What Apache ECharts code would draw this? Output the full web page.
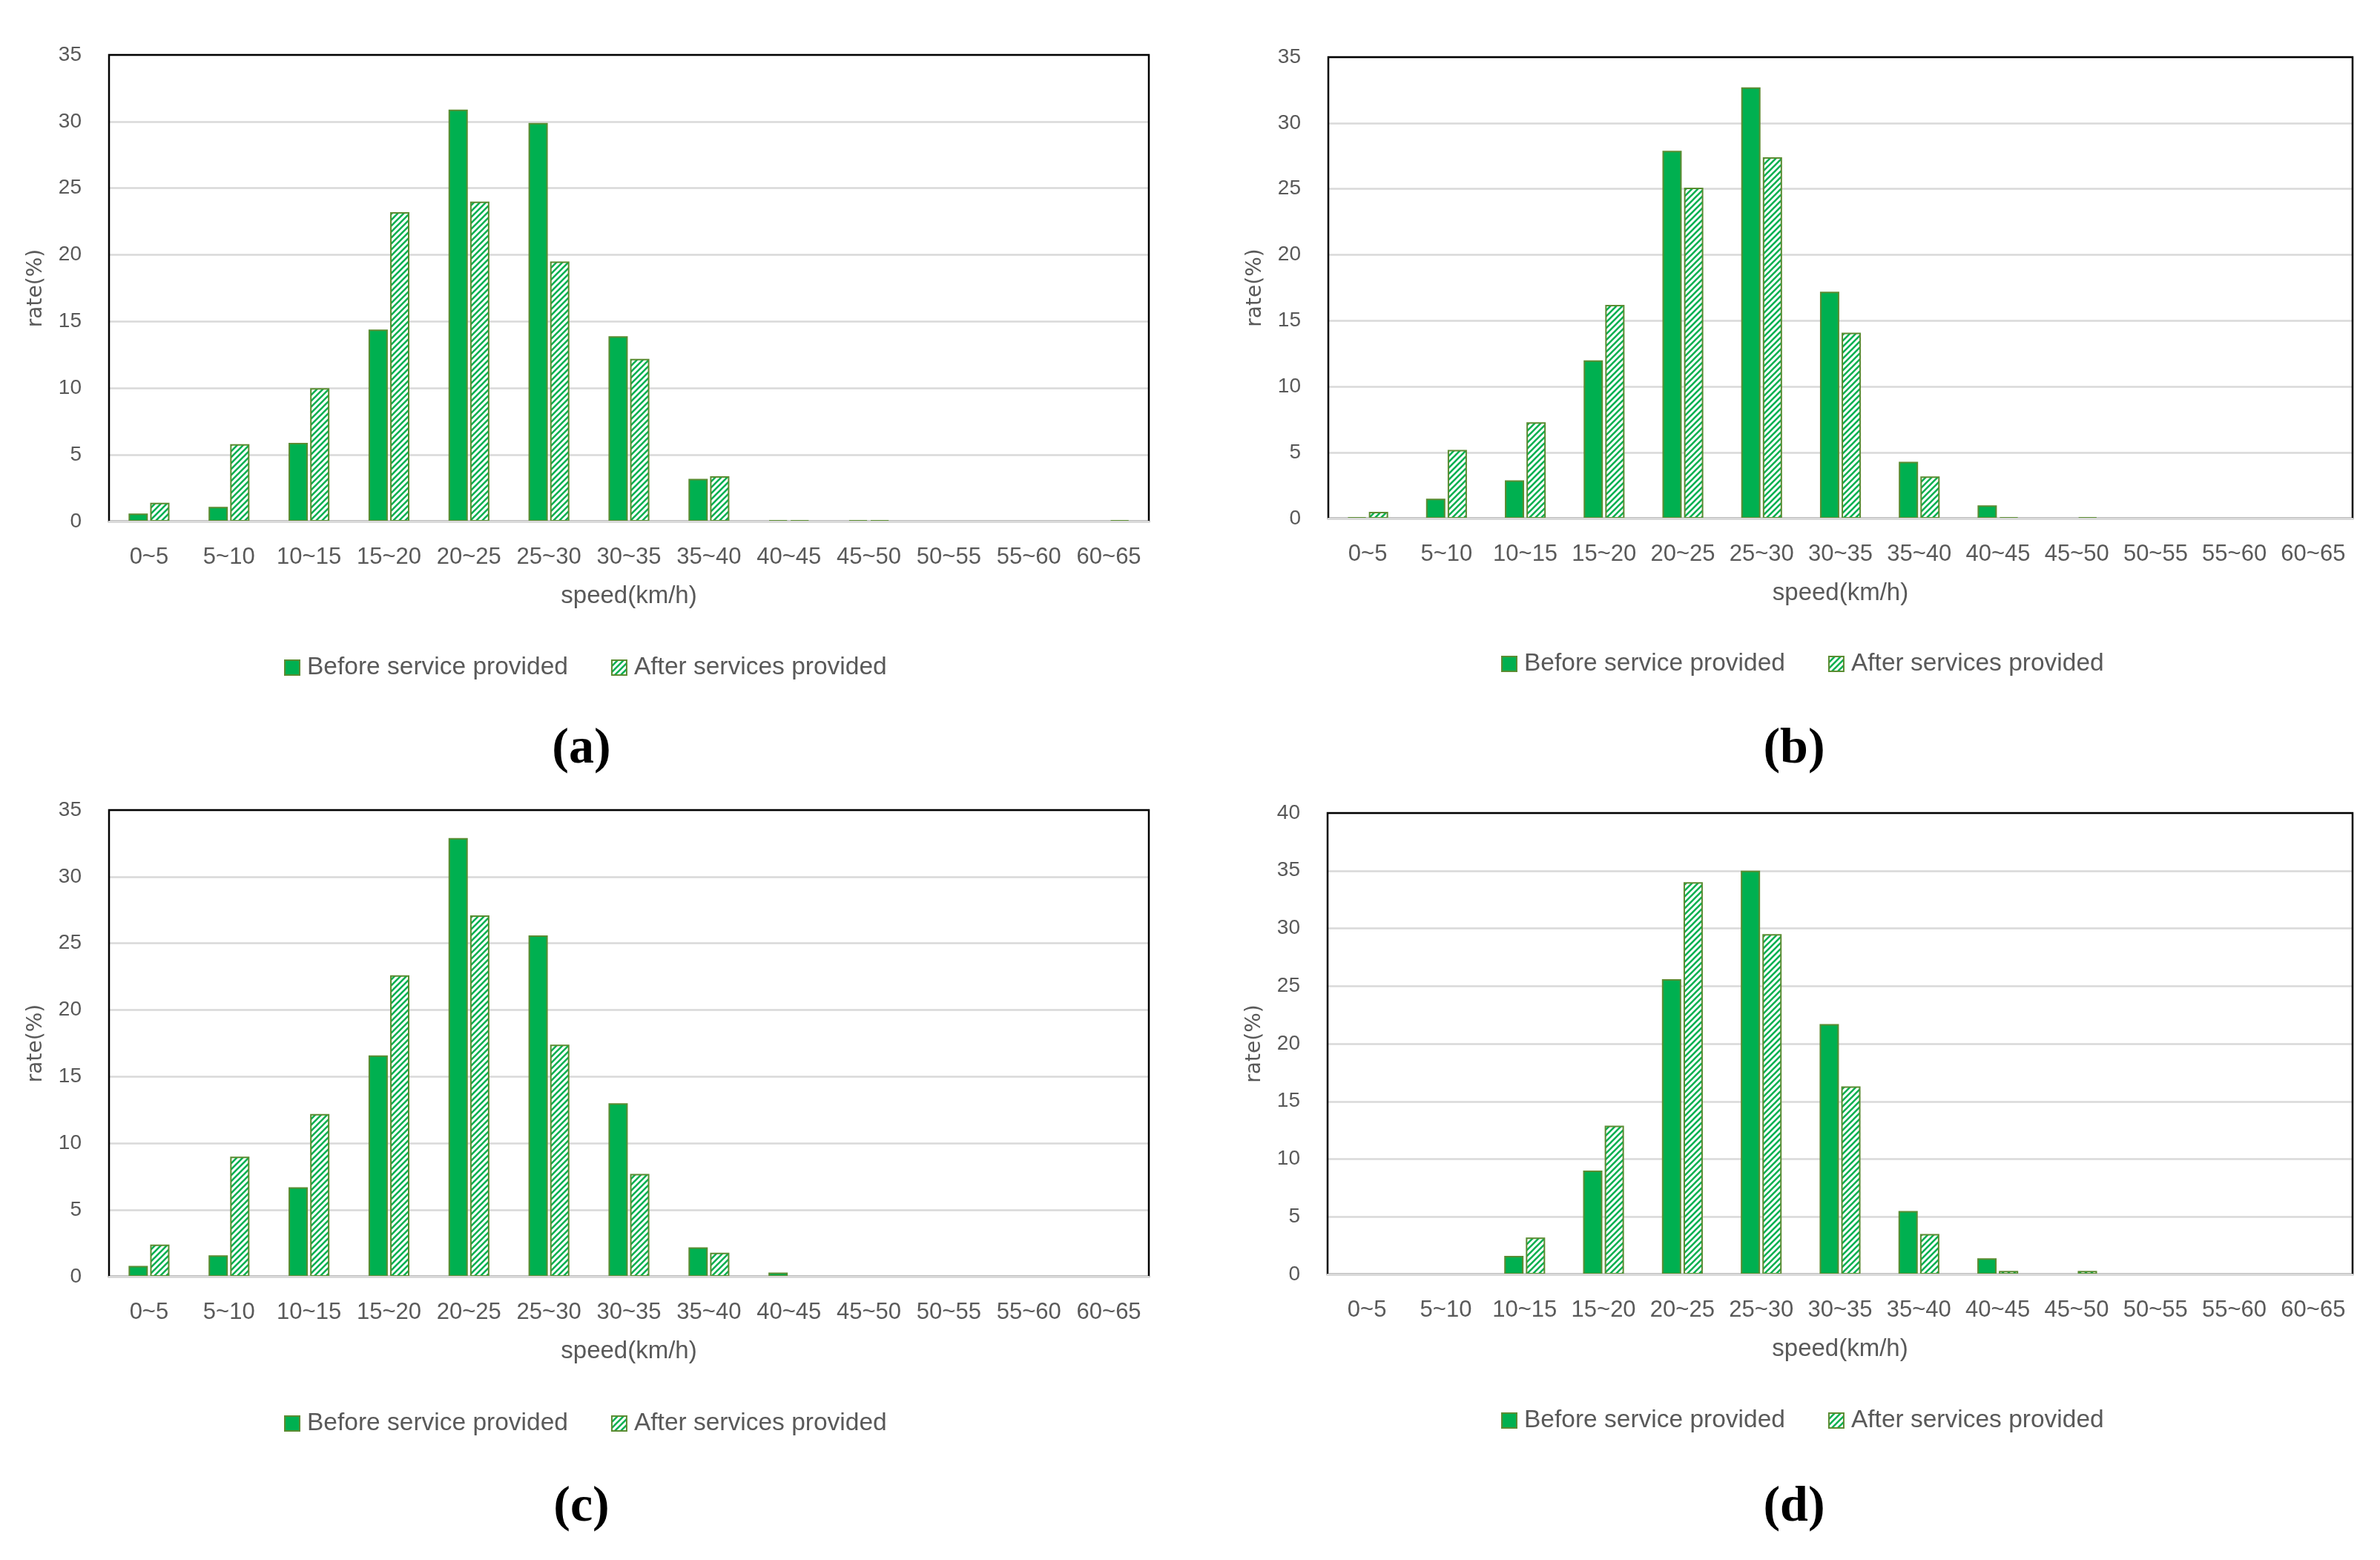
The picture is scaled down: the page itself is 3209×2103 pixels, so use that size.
<!DOCTYPE html>
<html>
<head>
<meta charset="utf-8">
<script src="https://cdn.jsdelivr.net/npm/echarts@6/dist/echarts.min.js"></script>
<style>
html,body{margin:0;padding:0;background:#fff;}
#main{width:3209px;height:2103px;}
</style>
</head>
<body>
<div id="main"></div>
<script>
var categories = ['0~5','5~10','10~15','15~20','20~25','25~30','30~35','35~40','40~45','45~50','50~55','55~60','60~65'];
var seriesNames = ['Before service provided', 'After services provided'];
var panelLabels = ['(a)', '(b)', '(c)', '(d)'];
var yMax = [35, 35, 35, 40];

var a_before = [0.6, 1.1, 5.9, 14.4, 30.9, 29.9, 13.9, 3.2, 0.1, 0.1, 0, 0, 0];
var a_after  = [1.4, 5.8, 10.0, 23.2, 24.0, 19.5, 12.2, 3.4, 0.1, 0.1, 0, 0, 0.1];
var b_before = [0.1, 1.5, 2.9, 12.0, 27.9, 32.7, 17.2, 4.3, 1.0, 0, 0, 0, 0];
var b_after  = [0.5, 5.2, 7.3, 16.2, 25.1, 27.4, 14.1, 3.2, 0.1, 0.1, 0, 0, 0];
var c_before = [0.8, 1.6, 6.7, 16.6, 32.9, 25.6, 13.0, 2.2, 0.3, 0, 0, 0, 0];
var c_after  = [2.4, 9.0, 12.2, 22.6, 27.1, 17.4, 7.7, 1.8, 0, 0, 0, 0, 0];
var d_before = [0, 0, 1.6, 9.0, 25.6, 35.0, 21.7, 5.5, 1.4, 0, 0, 0, 0];
var d_after  = [0, 0, 3.2, 12.9, 34.0, 29.5, 16.3, 3.5, 0.3, 0.3, 0, 0, 0];

var beforeData = [a_before, b_before, c_before, d_before];
var afterData = [a_after, b_after, c_after, d_after];

// layout (pixels)
var grids = [
  {left:147, top:74, width:1402, height:629},
  {left:1791, top:77, width:1381, height:622},
  {left:147, top:1092, width:1402, height:629},
  {left:1790, top:1096, width:1382, height:622}
];
var legendPos = [{left:378, top:878},{left:2019, top:873},{left:378, top:1897},{left:2019, top:1893}];
var subPos = [{x:784, y:1010},{x:2419, y:1010},{x:784, y:2032},{x:2419, y:2032}];

var GREEN = '#00b050';
var EDGE = '#5b8c32';
var TXT = '#595959';
var FONT = 'Liberation Sans';

var pc = document.createElement('canvas');
pc.width = 8; pc.height = 8;
var ctx = pc.getContext('2d');
ctx.fillStyle = '#ffffff'; ctx.fillRect(0,0,8,8);
ctx.strokeStyle = GREEN; ctx.lineWidth = 2.6;
ctx.beginPath();
ctx.moveTo(0,8); ctx.lineTo(8,0);
ctx.moveTo(-2,2); ctx.lineTo(2,-2);
ctx.moveTo(6,10); ctx.lineTo(10,6);
ctx.stroke();
var hatch = {image: pc, repeat: 'repeat'};

var option = {
  backgroundColor: '#ffffff',
  animation: false,
  grid: [], xAxis: [], yAxis: [], series: [], legend: [], graphic: []
};

for (var i = 0; i < 4; i++) {
  var g = grids[i];
  option.grid.push({left:g.left, top:g.top, width:g.width, height:g.height, containLabel:false,
    show:true, borderColor:'#000000', borderWidth:2.5, backgroundColor:'transparent', z:1});
  option.xAxis.push({
    type:'category', gridIndex:i, data:categories, z:3,
    axisLine:{show:true, lineStyle:{color:'#d9d9d9', width:3}},
    axisTick:{show:false},
    axisLabel:{color:TXT, fontSize:31, fontFamily:FONT, margin:33, interval:0},
    name:'speed(km/h)', nameLocation:'middle', nameGap:84,
    nameTextStyle:{color:TXT, fontSize:33, fontFamily:FONT}
  });
  option.yAxis.push({
    type:'value', gridIndex:i, min:0, max:yMax[i], interval:5, z:0,
    axisLine:{show:false}, axisTick:{show:false},
    axisLabel:{color:TXT, fontSize:28, fontFamily:FONT, margin:37},
    splitLine:{show:true, lineStyle:{color:'#d9d9d9', width:2.5}},
    name:'rate(%)', nameLocation:'middle', nameGap:84, nameRotate:90,
    nameTextStyle:{color:TXT, fontSize:28, fontFamily:'DejaVu Sans'}
  });
  option.series.push({
    name:seriesNames[0], type:'bar', xAxisIndex:i, yAxisIndex:i, data:beforeData[i],
    barWidth:26, barGap:'12%',
    itemStyle:{color:GREEN, borderColor:EDGE, borderWidth:2}
  });
  option.series.push({
    name:seriesNames[1], type:'bar', xAxisIndex:i, yAxisIndex:i, data:afterData[i],
    barWidth:26, barGap:'12%',
    itemStyle:{color:hatch, borderColor:EDGE, borderWidth:2}
  });
  option.legend.push({
    data:seriesNames, left:legendPos[i].left, top:legendPos[i].top, orient:'horizontal',
    itemWidth:20, itemHeight:20, itemGap:58, icon:'rect',
    textStyle:{color:TXT, fontSize:33.5, fontFamily:FONT, padding:[0,0,0,5]}
  });
  option.graphic.push({
    type:'text', x:subPos[i].x, y:subPos[i].y,
    style:{text:panelLabels[i], fill:'#000', font:'bold 68px "Liberation Serif"', textAlign:'center', textVerticalAlign:'middle'}
  });
}

var chart = echarts.init(document.getElementById('main'));
chart.setOption(option);
</script>
</body>
</html>
